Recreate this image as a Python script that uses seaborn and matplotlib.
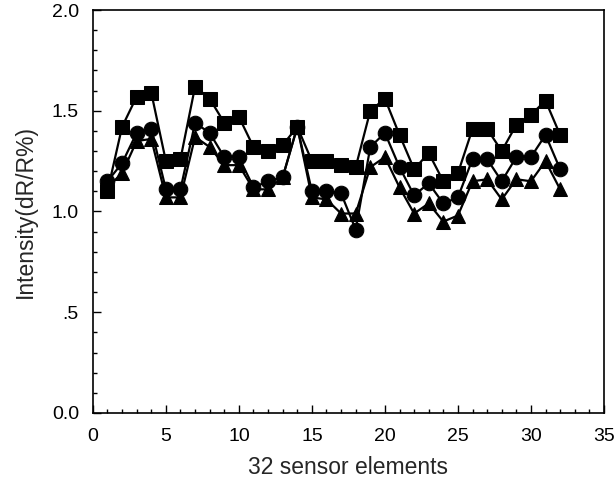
import numpy as np
import pandas as pd
import matplotlib
matplotlib.use("Agg")
import matplotlib.pyplot as plt
from matplotlib.ticker import MultipleLocator, FixedLocator, FixedFormatter
import seaborn as sns

elements = list(range(1, 33))
squares = [1.10, 1.42, 1.57, 1.59, 1.25, 1.26, 1.62, 1.56, 1.44, 1.47, 1.32, 1.30, 1.33, 1.42, 1.25, 1.25,
           1.23, 1.22, 1.50, 1.56, 1.38, 1.21, 1.29, 1.15, 1.19, 1.41, 1.41, 1.30, 1.43, 1.48, 1.55, 1.38]
circles = [1.15, 1.24, 1.39, 1.41, 1.11, 1.11, 1.44, 1.39, 1.27, 1.27, 1.12, 1.15, 1.17, 1.42, 1.10, 1.10,
           1.09, 0.91, 1.32, 1.39, 1.22, 1.08, 1.14, 1.04, 1.07, 1.26, 1.26, 1.15, 1.27, 1.27, 1.38, 1.21]
triangles = [1.12, 1.19, 1.35, 1.36, 1.07, 1.07, 1.37, 1.32, 1.23, 1.23, 1.11, 1.11, 1.17, 1.42, 1.07, 1.06,
             0.99, 0.99, 1.22, 1.27, 1.12, 0.99, 1.04, 0.95, 0.98, 1.15, 1.16, 1.06, 1.16, 1.15, 1.25, 1.11]
y_ticks = [0.0, 0.5, 1.0, 1.5, 2.0]
y_tick_labels = ["0.0", ".5", "1.0", "1.5", "2.0"]
x_ticks = [0, 5, 10, 15, 20, 25, 30, 35]

df = pd.concat([
    pd.DataFrame({"element": elements, "value": triangles, "series": "tri"}),
    pd.DataFrame({"element": elements, "value": circles, "series": "circ"}),
    pd.DataFrame({"element": elements, "value": squares, "series": "sq"}),
])

sns.set_theme(style="ticks")
plt.rcParams["font.family"] = ["Liberation Sans", "DejaVu Sans"]

fig = plt.figure(figsize=(6.15, 4.88), dpi=100)
ax = fig.add_axes([0.151, 0.1537, 0.831, 0.8258])

sns.lineplot(data=df, x="element", y="value", hue="series", style="series",
             palette={"tri": "black", "circ": "black", "sq": "black"},
             markers={"tri": "^", "circ": "o", "sq": "s"},
             dashes={"tri": "", "circ": "", "sq": ""},
             markersize=10.5, markeredgecolor="black", linewidth=1.6,
             legend=False, ax=ax)

ax.set_xlim(0, 35)
ax.set_ylim(0, 2.0)
ax.xaxis.set_major_locator(FixedLocator(x_ticks))
ax.xaxis.set_minor_locator(MultipleLocator(1))
ax.yaxis.set_major_locator(FixedLocator(y_ticks))
ax.yaxis.set_major_formatter(FixedFormatter(y_tick_labels))
ax.yaxis.set_minor_locator(MultipleLocator(0.1))
ax.tick_params(which="major", direction="in", length=6, width=1, labelsize=14, colors="black")
ax.tick_params(axis="x", which="major", pad=11)
ax.tick_params(axis="y", which="major", pad=10)
ax.tick_params(which="minor", direction="in", length=3, width=1, colors="black")
for s in ax.spines.values():
    s.set_visible(True)
    s.set_linewidth(1.2)
    s.set_color("black")

ax.set_xlabel("32 sensor elements", fontsize=16.5, labelpad=8)
ax.set_ylabel("Intensity(dR/R%)", fontsize=16.5, labelpad=11)

fig.savefig("out.png", dpi=100)
